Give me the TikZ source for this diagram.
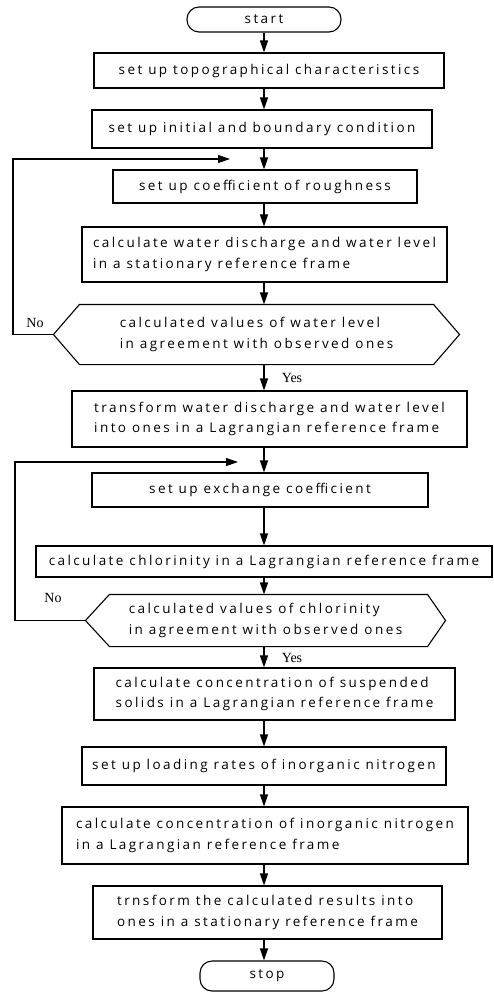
\documentclass[tikz,border=0pt]{standalone}
\usepackage{fontspec}
\setmainfont[LetterSpace=18]{Open Sans}
\newfontfamily\lblfont{Liberation Serif}
\usetikzlibrary{arrows.meta,calc}
\begin{document}
\begin{tikzpicture}[x=1pt,y=-1pt,
  line width=1.1pt,
  every node/.style={inner sep=0pt,font=\fontsize{13.5}{20.5}\selectfont},
  proc/.style={draw,rectangle,align=left},
  term/.style={draw,rectangle,rounded corners=12pt},
  deci/.style={rectangle,align=left},
  lbl/.style={font=\lblfont\fontsize{14}{16}\selectfont},
  arr/.style={-{Triangle[length=12pt,width=8pt]}}
]
\useasboundingbox (0,0) rectangle (494,992);
\coordinate (ax) at (264,0);

\node[term,minimum width=154pt,minimum height=25pt] (start) at (264,19.5) {start};
\node[proc,minimum width=350pt,minimum height=35pt] (b1) at (269,70.5) {set up topographical characteristics};
\node[proc,minimum width=340pt,minimum height=38pt] (b2) at (262,129) {set up initial and boundary condition};
\node[proc,minimum width=304pt,minimum height=33pt] (b3) at (265,186.5) {set up coefficient of roughness};
\node[proc,minimum width=365pt,minimum height=55pt] (b4) at (264.5,254.5) {calculate water discharge and water level\\in a stationary reference frame};
\node[deci,minimum width=405pt,minimum height=59pt] (d1) at (256.5,334.5) {calculated values of water level\\in agreement with observed ones};
\draw (d1.west) -- ([xshift=26pt]d1.north west) -- ([xshift=-26pt]d1.north east) -- (d1.east) -- ([xshift=-26pt]d1.south east) -- ([xshift=26pt]d1.south west) -- cycle;
\node[proc,minimum width=395pt,minimum height=56pt] (b5) at (269.5,419) {transform water discharge and water level\\into ones in a Lagrangian reference frame};
\node[proc,minimum width=336pt,minimum height=34pt] (b6) at (260,490) {set up exchange coefficient};
\node[proc,minimum width=456pt,minimum height=31pt] (b7) at (264,561.5) {calculate chlorinity in a Lagrangian reference frame};
\node[deci,minimum width=359pt,minimum height=51pt] (d2) at (265.5,620.5) {calculated values of chlorinity\\in agreement with observed ones};
\draw (d2.west) -- ([xshift=24pt]d2.north west) -- ([xshift=-18pt]d2.north east) -- (d2.east) -- ([xshift=-18pt]d2.south east) -- ([xshift=24pt]d2.south west) -- cycle;
\node[proc,minimum width=361pt,minimum height=52pt] (b8) at (274.5,694) {calculate concentration of suspended\\solids in a Lagrangian reference frame};
\node[proc,minimum width=364pt,minimum height=38pt] (b9) at (264,766) {set up loading rates of inorganic nitrogen};
\node[proc,minimum width=406pt,minimum height=57pt] (b10) at (265,835.5) {calculate concentration of inorganic nitrogen\\in a Lagrangian reference frame};
\node[proc,minimum width=349pt,minimum height=53pt] (b11) at (267.5,912.5) {trnsform the calculated results into\\ones in a stationary reference frame};
\node[term,minimum width=134pt,minimum height=30pt] (stop) at (267,976) {stop};

\foreach \a/\b in {start/b1,b1/b2,b2/b3,b3/b4,b4/d1,d1/b5,b5/b6,b6/b7,b7/d2,d2/b8,b8/b9,b9/b10,b10/b11,b11/stop}
  \draw[arr] (\a.south -| ax) -- (\b.north -| ax);

\coordinate (l1) at (230,159);
\coordinate (l2) at (238,462);
\draw[arr] (d1.west) -| (13,159) -- (l1);
\draw[arr] (d2.west) -| (15,462) -- (l2);

\node[lbl] (no1) at (35,323) {No};
\node[lbl] (no2) at (53,598) {No};
\node[lbl] (yes1) at (292,378) {Yes};
\node[lbl] (yes2) at (292,658) {Yes};
\end{tikzpicture}
\end{document}
